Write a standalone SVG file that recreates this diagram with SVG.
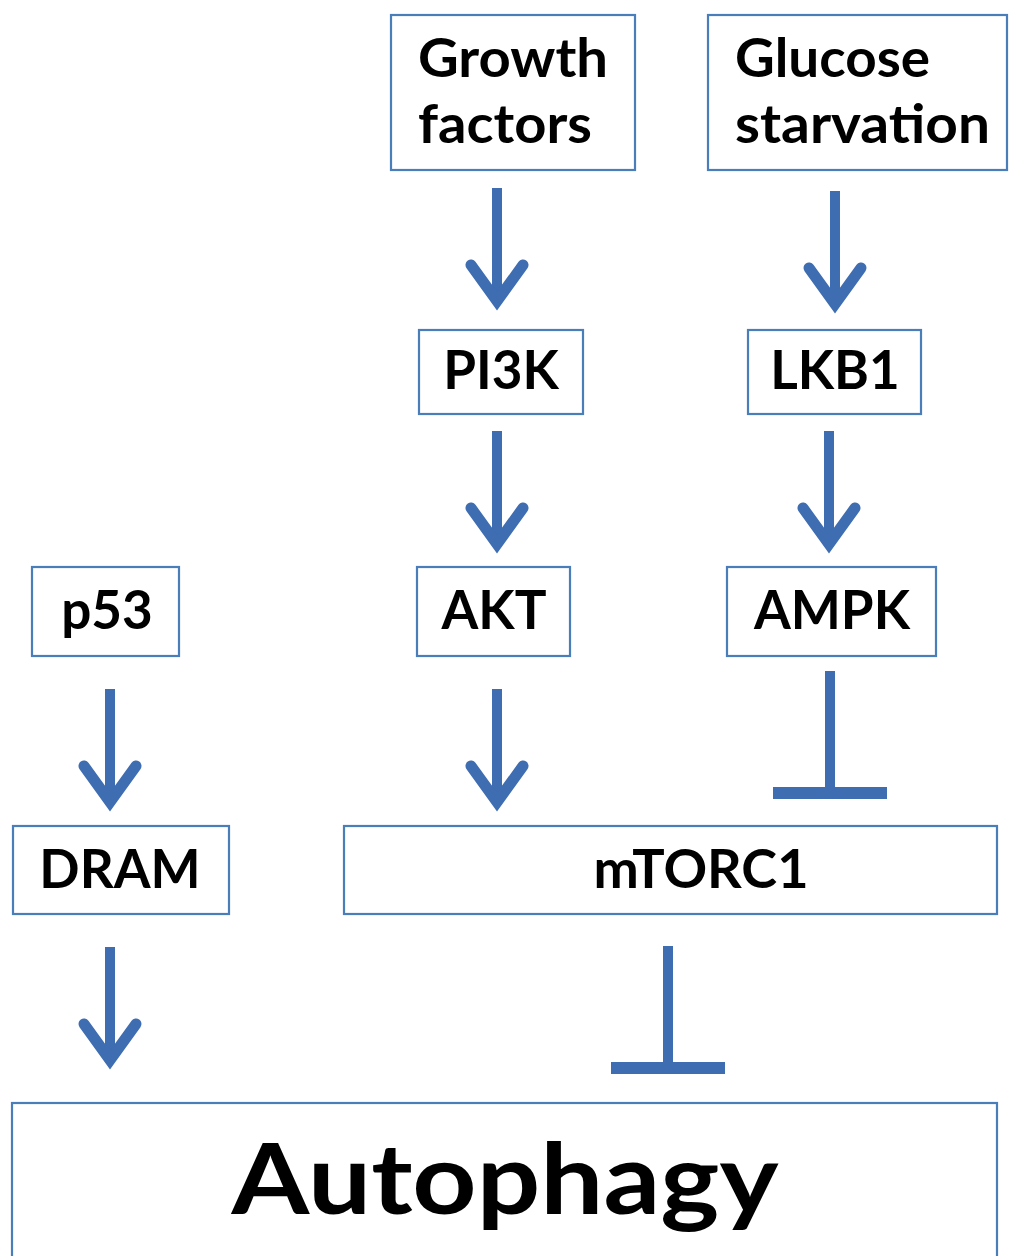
<svg xmlns="http://www.w3.org/2000/svg" width="1009" height="1256" viewBox="0 0 1009 1256">
  <style>
    .box { fill: #ffffff; stroke: #4a7ebb; stroke-width: 2.2; }
    .lbl { font-family: Lato, "Open Sans", "Liberation Sans", sans-serif; font-weight: 700; font-size: 53px; fill: #000000; }
    .mid { text-anchor: middle; }
    .shaft { stroke: #3e6db2; stroke-width: 10; fill: none; }
    .head { stroke: #3e6db2; stroke-width: 11; fill: none; stroke-linecap: round; stroke-linejoin: miter; }
  </style>
  <defs>
    <!-- activation arrow: shaft plus chevron head, tip at origin -->
    <g id="act">
      <line class="shaft" x1="0" y1="-117" x2="0" y2="-4"/>
      <polyline class="head" points="-26,-40 0,-4 26,-40"/>
    </g>
    <!-- inhibition: shaft ending in a flat bar -->
    <g id="inh">
      <line class="shaft" x1="0" y1="-122" x2="0" y2="0"/>
      <line x1="-57" y1="0" x2="57" y2="0" stroke="#3e6db2" stroke-width="12"/>
    </g>
  </defs>
  <rect width="1009" height="1256" fill="#ffffff"/>

  <g id="connectors">
    <use href="#act" x="497" y="305"/>
    <use href="#act" x="835" y="308"/>
    <use href="#act" x="497" y="548"/>
    <use href="#act" x="829" y="548"/>
    <use href="#act" x="110" y="806"/>
    <use href="#act" x="497" y="806"/>
    <use href="#inh" x="830" y="793"/>
    <use href="#act" x="110" y="1064"/>
    <use href="#inh" x="668" y="1068"/>
  </g>

  <g id="growth-factors">
    <rect class="box" x="391" y="15" width="244" height="155"/>
    <text class="lbl" x="418" y="77" textLength="190" lengthAdjust="spacingAndGlyphs">Growth</text>
    <text class="lbl" x="418" y="143" textLength="174" lengthAdjust="spacingAndGlyphs">factors</text>
  </g>
  <g id="glucose-starvation">
    <rect class="box" x="708" y="15" width="299" height="155"/>
    <text class="lbl" x="735" y="77" textLength="195" lengthAdjust="spacingAndGlyphs">Glucose</text>
    <text class="lbl" x="735" y="143" textLength="255" lengthAdjust="spacingAndGlyphs">starvation</text>
  </g>
  <g id="pi3k">
    <rect class="box" x="419" y="330" width="164" height="84"/>
    <text class="lbl mid" x="501" y="389">PI3K</text>
  </g>
  <g id="lkb1">
    <rect class="box" x="748" y="330" width="173" height="84"/>
    <text class="lbl mid" x="835" y="389">LKB1</text>
  </g>
  <g id="p53">
    <rect class="box" x="32" y="567" width="147" height="89"/>
    <text class="lbl mid" x="107" y="629">p53</text>
  </g>
  <g id="akt">
    <rect class="box" x="417" y="567" width="153" height="89"/>
    <text class="lbl mid" x="494" y="629">AKT</text>
  </g>
  <g id="ampk">
    <rect class="box" x="727" y="567" width="209" height="89"/>
    <text class="lbl mid" x="832" y="629">AMPK</text>
  </g>
  <g id="dram">
    <rect class="box" x="13" y="826" width="216" height="88"/>
    <text class="lbl mid" x="120" y="888">DRAM</text>
  </g>
  <g id="mtorc1">
    <rect class="box" x="344" y="826" width="653" height="88"/>
    <text class="lbl mid" x="701" y="888" textLength="215" lengthAdjust="spacingAndGlyphs">mTORC1</text>
  </g>
  <g id="autophagy">
    <rect class="box" x="12" y="1103" width="985" height="160"/>
    <text class="lbl mid" x="505" y="1214" style="font-size:97px" textLength="547" lengthAdjust="spacingAndGlyphs">Autophagy</text>
  </g>
</svg>
